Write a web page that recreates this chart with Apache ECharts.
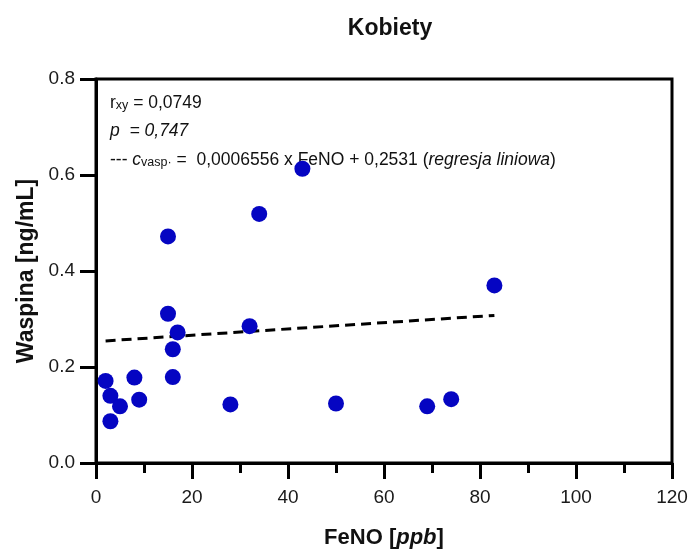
<!DOCTYPE html>
<html><head><meta charset="utf-8">
<script src="https://cdn.jsdelivr.net/npm/echarts@6/dist/echarts.min.js"></script>
<style>html,body{margin:0;padding:0;background:#fff}#c{width:692px;height:555px}</style>
</head><body><div id="c"></div>
<script>
const feno = [2, 3, 5, 3, 8, 9, 15, 15, 17, 16, 16, 28, 32, 34, 43, 50, 69, 74, 83];
const waspina = [0.171, 0.140, 0.118, 0.087, 0.178, 0.132, 0.472, 0.311, 0.272, 0.237, 0.179, 0.122, 0.285, 0.519, 0.613, 0.124, 0.118, 0.133, 0.370];
const regX = [2, 83];
const regY = [0.2544, 0.3075];
const xTicks = [0, 20, 40, 60, 80, 100, 120];
const yTicks = ['0.0', '0.2', '0.4', '0.6', '0.8'];

const FONT = '"Liberation Sans", Arial, sans-serif';
const chart = echarts.init(document.getElementById('c'), null, {renderer: 'canvas'});
chart.setOption({
  animation: false,
  backgroundColor: '#fff',
  title: {
    text: 'Kobiety', left: 385, top: 12, textAlign: 'center',
    textStyle: {fontFamily: FONT, fontSize: 23, fontWeight: 'bold', color: '#111'}
  },
  grid: {left: 96, right: 20, top: 79, bottom: 92, show: true, borderColor: '#000', borderWidth: 3, backgroundColor: 'transparent'},
  xAxis: {
    type: 'value', min: 0, max: 120, interval: 20,
    name: '{b|FeNO [}{bi|ppb}{b|]}', nameLocation: 'middle', nameGap: 64,
    nameTextStyle: {rich: {
      b: {fontFamily: FONT, fontSize: 22, fontWeight: 'bold', color: '#111'},
      bi: {fontFamily: FONT, fontSize: 22, fontWeight: 'bold', fontStyle: 'italic', color: '#111'}
    }},
    axisLine: {show: true, onZero: false, lineStyle: {color: '#000', width: 3}},
    axisTick: {show: true, inside: false, length: 16, lineStyle: {color: '#000', width: 3}},
    minorTick: {show: true, splitNumber: 2, length: 10, lineStyle: {color: '#000', width: 3}},
    splitLine: {show: false},
    axisLabel: {
      margin: 25, fontFamily: FONT, fontSize: 19, color: '#1a1a1a',
      formatter: v => xTicks.includes(v) ? String(v) : ''
    }
  },
  yAxis: {
    type: 'value', min: 0, max: 0.8, interval: 0.2,
    name: 'Waspina [ng/mL]', nameLocation: 'middle', nameGap: 56, nameRotate: 90,
    nameTextStyle: {fontFamily: FONT, fontSize: 23, fontWeight: 'bold', color: '#111'},
    axisLine: {show: true, onZero: false, lineStyle: {color: '#000', width: 3}},
    axisTick: {show: true, inside: false, length: 16, lineStyle: {color: '#000', width: 3}},
    splitLine: {show: false},
    axisLabel: {
      margin: 21, fontFamily: FONT, fontSize: 19, color: '#1a1a1a',
      formatter: v => yTicks[Math.round(v / 0.2)]
    }
  },
  series: [
    {
      type: 'line', data: regX.map((x, i) => [x, regY[i]]),
      symbol: 'none', lineStyle: {color: '#000', width: 3, type: [10, 6]}, z: 2
    },
    {
      type: 'scatter', data: feno.map((x, i) => [x, waspina[i]]),
      symbol: 'circle', symbolSize: 16,
      itemStyle: {color: '#0505c2', opacity: 1}, z: 3
    }
  ],
  graphic: [
    {type: 'text', left: 110, top: 93, z: 10, style: {
      text: '{n|r}{s|xy}{n| = 0,0749}',
      rich: {
        n: {fontFamily: FONT, fontSize: 17.5, fill: '#111', verticalAlign: 'bottom', lineHeight: 22},
        s: {fontFamily: FONT, fontSize: 12.5, fill: '#111', verticalAlign: 'bottom', lineHeight: 22, padding: [6, 0, 0, 0]}
      }
    }},
    {type: 'text', left: 110, top: 122, z: 10, style: {
      text: 'p  = 0,747',
      font: 'italic 17.5px ' + FONT, fill: '#111'
    }},
    {type: 'text', left: 110, top: 150, z: 1, style: {
      text: '{n|--- }{i|c}{s|vasp·}{n| =  0,0006556 x FeNO + 0,2531 (}{i|regresja liniowa}{n|)}',
      rich: {
        n: {fontFamily: FONT, fontSize: 17.5, fill: '#111', verticalAlign: 'bottom', lineHeight: 22},
        i: {fontFamily: FONT, fontSize: 17.5, fontStyle: 'italic', fill: '#111', verticalAlign: 'bottom', lineHeight: 22},
        s: {fontFamily: FONT, fontSize: 12.5, fill: '#111', verticalAlign: 'bottom', lineHeight: 22, padding: [6, 0, 0, 0]}
      }
    }}
  ]
});
</script></body></html>
